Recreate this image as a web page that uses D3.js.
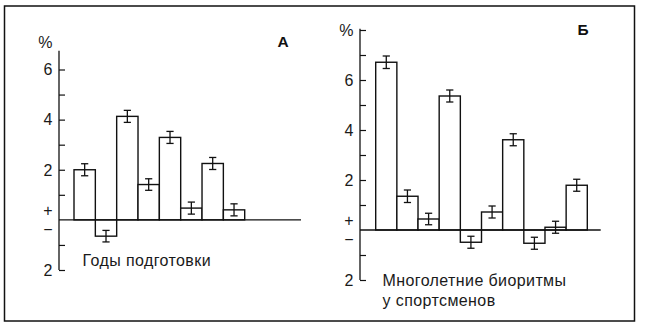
<!DOCTYPE html>
<html><head><meta charset="utf-8">
<script src="https://cdn.jsdelivr.net/npm/d3@7/dist/d3.min.js"></script>
<style>
body{margin:0;background:#fff;}
svg{display:block;font-family:"Liberation Sans",Arial,sans-serif;}
</style></head>
<body>
<svg id="c" width="646" height="330"></svg>
<script>
// Panel A data
const categoriesA = ["1","2","3","4","5","6","7","8"];
const valuesA = [2.0, -0.65, 4.13, 1.41, 3.29, 0.47, 2.25, 0.40];
const errorsA = [0.24, 0.23, 0.24, 0.23, 0.24, 0.24, 0.24, 0.24];
const tickValuesA = [6,5,4,3,2,1,-1,-2];
const labelValuesA = [7.1, 6, 4, 2, 0.37, -0.37, -2];
const labelTextsA = ["%", "6", "4", "2", "+", "−", "2"];
const titleA = "А";
const captionA = ["Годы подготовки"];

// Panel B data
const categoriesB = ["1","2","3","4","5","6","7","8","9","10"];
const valuesB = [6.71, 1.35, 0.44, 5.36, -0.49, 0.72, 3.61, -0.53, 0.11, 1.79];
const errorsB = [0.25, 0.25, 0.23, 0.24, 0.24, 0.24, 0.24, 0.24, 0.24, 0.24];
const tickValuesB = [8,7,6,5,4,3,2,1,-1,-2];
const labelValuesB = [8, 6, 4, 2, 0.4, -0.36, -2];
const labelTextsB = ["%", "6", "4", "2", "+", "−", "2"];
const titleB = "Б";
const captionB = ["Многолетние биоритмы", "у спортсменов"];

const svg = d3.select("#c");
svg.append("rect").attr("x",4.5).attr("y",6).attr("width",630).attr("height",315)
  .attr("fill","none").attr("stroke","#111").attr("stroke-width",1.5);

function panel(cfg){
  const g = svg.append("g");
  const y = d3.scaleLinear().domain(cfg.yDomain).range(cfg.yRange);
  const x = d3.scaleBand().domain(cfg.categories).range(cfg.xRange).padding(0);
  // axis
  const axis = d3.axisRight(y).tickValues(cfg.ticks).tickSize(6).tickFormat("");
  const ag = g.append("g").attr("transform",`translate(${cfg.axisX},0)`).call(axis);
  ag.select(".domain").remove();
  ag.selectAll(".tick line").attr("stroke","#111").attr("stroke-width",1.2);
  g.append("line").attr("x1",cfg.axisX).attr("x2",cfg.axisX)
    .attr("y1",y(cfg.axisTop)).attr("y2",y(cfg.yDomain[0]))
    .attr("stroke","#111").attr("stroke-width",1.3);
  // bars
  g.selectAll("rect.bar").data(cfg.values).join("rect").attr("class","bar")
    .attr("x",(d,i)=>x(cfg.categories[i]))
    .attr("width",x.bandwidth())
    .attr("y",d=>y(Math.max(0,d)))
    .attr("height",d=>Math.abs(y(d)-y(0)))
    .attr("fill","#fff").attr("stroke","#111").attr("stroke-width",1.4);
  // zero line
  g.append("line").attr("x1",cfg.axisX).attr("x2",cfg.zeroEnd)
    .attr("y1",y(0)).attr("y2",y(0)).attr("stroke","#111").attr("stroke-width",1.4);
  // error bars
  const eg = g.selectAll("g.err").data(cfg.values).join("g").attr("class","err");
  eg.each(function(d,i){
    const cx = x(cfg.categories[i]) + x.bandwidth()/2;
    const e = cfg.errors[i];
    const s = d3.select(this);
    s.append("line").attr("x1",cx).attr("x2",cx).attr("y1",y(d+e)).attr("y2",y(d-e));
    s.append("line").attr("x1",cx-3.6).attr("x2",cx+3.6).attr("y1",y(d+e)).attr("y2",y(d+e));
    s.append("line").attr("x1",cx-3.6).attr("x2",cx+3.6).attr("y1",y(d-e)).attr("y2",y(d-e));
  });
  eg.selectAll("line").attr("stroke","#111").attr("stroke-width",1.3);
  // labels
  g.selectAll("text.lab").data(cfg.labelValues).join("text").attr("class","lab")
    .attr("x",cfg.labelX).attr("y",d=>y(d)).attr("dy","0.36em")
    .attr("text-anchor","end").attr("font-size",16).attr("fill","#1a1a1a")
    .text((d,i)=>cfg.labelTexts[i]);
  // title letter
  g.append("text").attr("x",cfg.titlePos[0]).attr("y",cfg.titlePos[1])
    .attr("font-size",15.5).attr("font-weight","bold").attr("fill","#111").text(cfg.title);
  // caption
  cfg.caption.forEach((t,i)=>{
    g.append("text").attr("x",cfg.captionPos[0]).attr("y",cfg.captionPos[1]+i*20.5)
      .attr("font-size",16).attr("letter-spacing","0.4px").attr("fill","#1a1a1a").text(t);
  });
}

panel({categories:categoriesA, values:valuesA, errors:errorsA, ticks:tickValuesA,
  labelValues:labelValuesA, labelTexts:labelTextsA, title:titleA, caption:captionA,
  yDomain:[-2,6], yRange:[270,69.5], xRange:[74,244.7], axisX:59, axisTop:6.75,
  zeroEnd:301, labelX:52.5, titlePos:[277.5,47], captionPos:[82.5,265.5]});

panel({categories:categoriesB, values:valuesB, errors:errorsB, ticks:tickValuesB,
  labelValues:labelValuesB, labelTexts:labelTextsB, title:titleB, caption:captionB,
  yDomain:[-2,8], yRange:[280,30], xRange:[375.7,587.3], axisX:360, axisTop:8.05,
  zeroEnd:600.7, labelX:353.5, titlePos:[577.5,35], captionPos:[382.5,285.5]});
</script>
</body></html>
